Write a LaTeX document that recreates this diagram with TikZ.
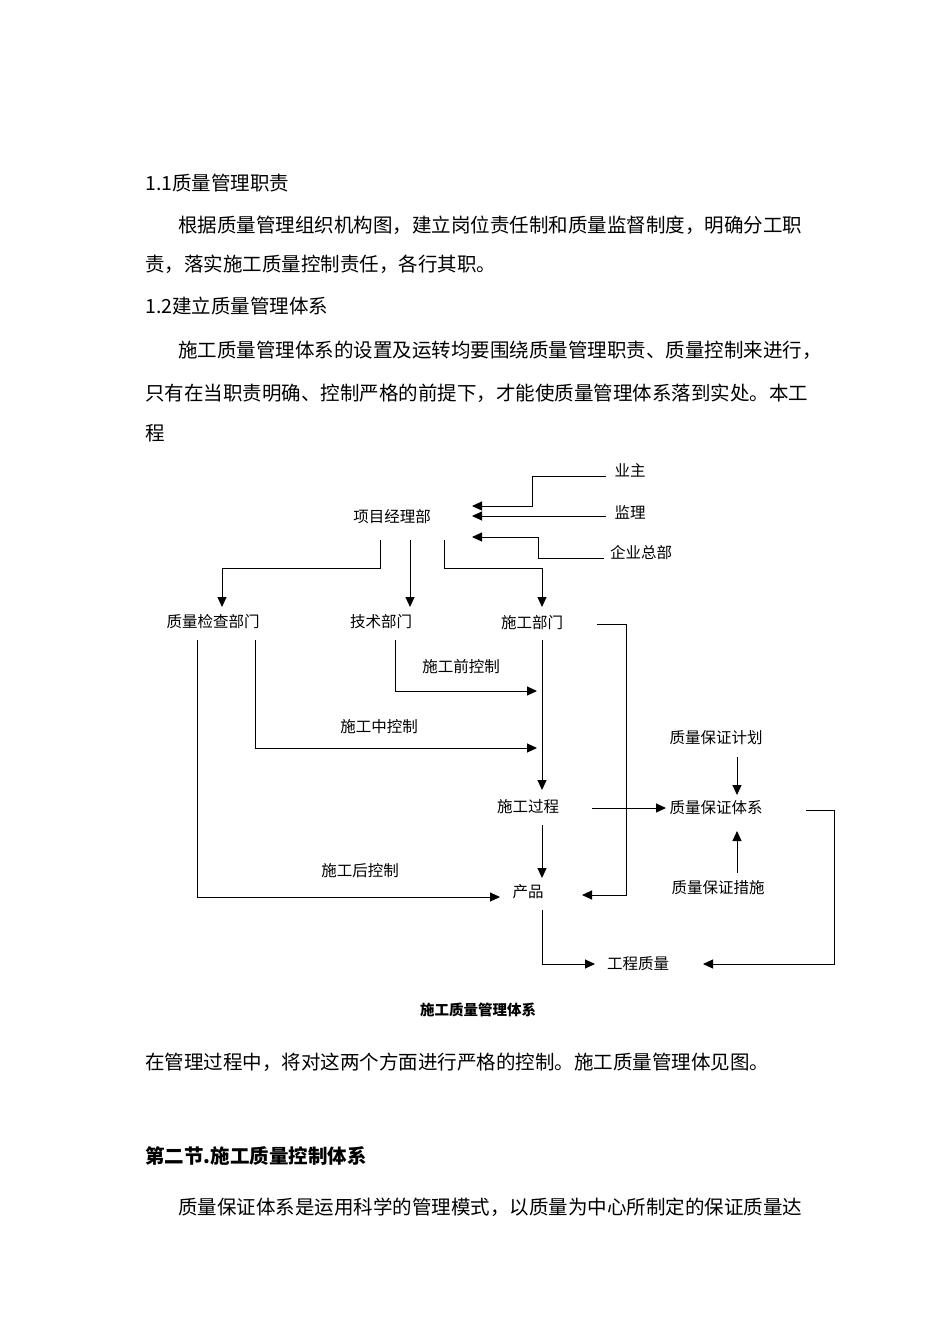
\documentclass[tikz,border=0pt]{standalone}
\usepackage{fontspec}
\setmainfont{Noto Sans CJK SC}
\usetikzlibrary{arrows.meta}
\tikzset{
  body/.style={anchor=west,inner sep=0pt,font=\fontsize{19.5}{20}\selectfont},
  head/.style={body,font=\fontsize{19.5}{20}\selectfont\bfseries},
  lbl/.style={inner sep=0pt,font=\fontsize{15.5}{16}\selectfont},
  arr/.style={-{Triangle[length=10pt,width=9pt]},line width=1pt},
}
\begin{document}
\begin{tikzpicture}[x=1pt,y=-1pt]
\useasboundingbox (0,0) rectangle (950,1344);
% page text
\node[body] (t1) at (145,183) {1.1质量管理职责};
\node[body] (t2) at (178,225) {根据质量管理组织机构图，建立岗位责任制和质量监督制度，明确分工职};
\node[body] (t3) at (145,264) {责，落实施工质量控制责任，各行其职。};
\node[body] (t4) at (145,306) {1.2建立质量管理体系};
\node[body] (t5) at (178,350) {施工质量管理体系的设置及运转均要围绕质量管理职责、质量控制来进行，};
\node[body] (t6) at (145,393) {只有在当职责明确、控制严格的前提下，才能使质量管理体系落到实处。本工};
\node[body] (t7) at (145,433) {程};
\node[lbl,font=\fontsize{14.5}{15}\selectfont\bfseries] (cap) at (478,1010) {施工质量管理体系};
\node[body] (t8) at (145,1062) {在管理过程中，将对这两个方面进行严格的控制。施工质量管理体见图。};
\node[head] (t9) at (145,1156) {第二节.施工质量控制体系};
\node[body] (t10) at (178,1207) {质量保证体系是运用科学的管理模式，以质量为中心所制定的保证质量达};
% diagram nodes
\node[lbl] (yz) at (630,470) {业主};
\node[lbl] (jl) at (630,512) {监理};
\node[lbl] (qy) at (641,553) {企业总部};
\node[lbl] (xm) at (392,517) {项目经理部};
\node[lbl] (zj) at (213,622) {质量检查部门};
\node[lbl] (js) at (381,622) {技术部门};
\node[lbl] (sg) at (532,623) {施工部门};
\node[lbl] (sq) at (461,667) {施工前控制};
\node[lbl] (sz) at (379,727) {施工中控制};
\node[lbl] (jh) at (716,738) {质量保证计划};
\node[lbl] (gc) at (528,807) {施工过程};
\node[lbl] (tx) at (716,808) {质量保证体系};
\node[lbl] (sh) at (360,871) {施工后控制};
\node[lbl] (cp) at (528,892) {产品};
\node[lbl] (cs) at (718,888) {质量保证措施};
\node[lbl] (zl) at (638,964) {工程质量};
% connectors
\draw[arr] (606,476) -- (532,476) -- (532,506) -- (472,506);
\draw[arr] (606,516) -- (472,516);
\draw[arr] (604,558) -- (538,558) -- (538,537) -- (472,537);
\draw[arr] (380,540) -- (380,568) -- (222,568) -- (222,607);
\draw[arr] (410,540) -- (410,607);
\draw[arr] (444,540) -- (444,568) -- (542,568) -- (542,607);
\draw[arr] (597,624) -- (626,624) -- (626,895) -- (582,895);
\draw[arr] (197,640) -- (197,897) -- (500,897);
\draw[arr] (255,640) -- (255,748) -- (537,748);
\draw[arr] (395,640) -- (395,691) -- (537,691);
\draw[arr] (542,640) -- (542,790);
\draw[arr] (592,808) -- (666,808);
\draw[arr] (542,825) -- (542,878);
\draw[arr] (542,910) -- (542,964) -- (595,964);
\draw[arr] (737,757) -- (737,795);
\draw[arr] (737,873) -- (737,831);
\draw[arr] (806,810) -- (834,810) -- (834,964) -- (703,964);
\end{tikzpicture}
\end{document}
